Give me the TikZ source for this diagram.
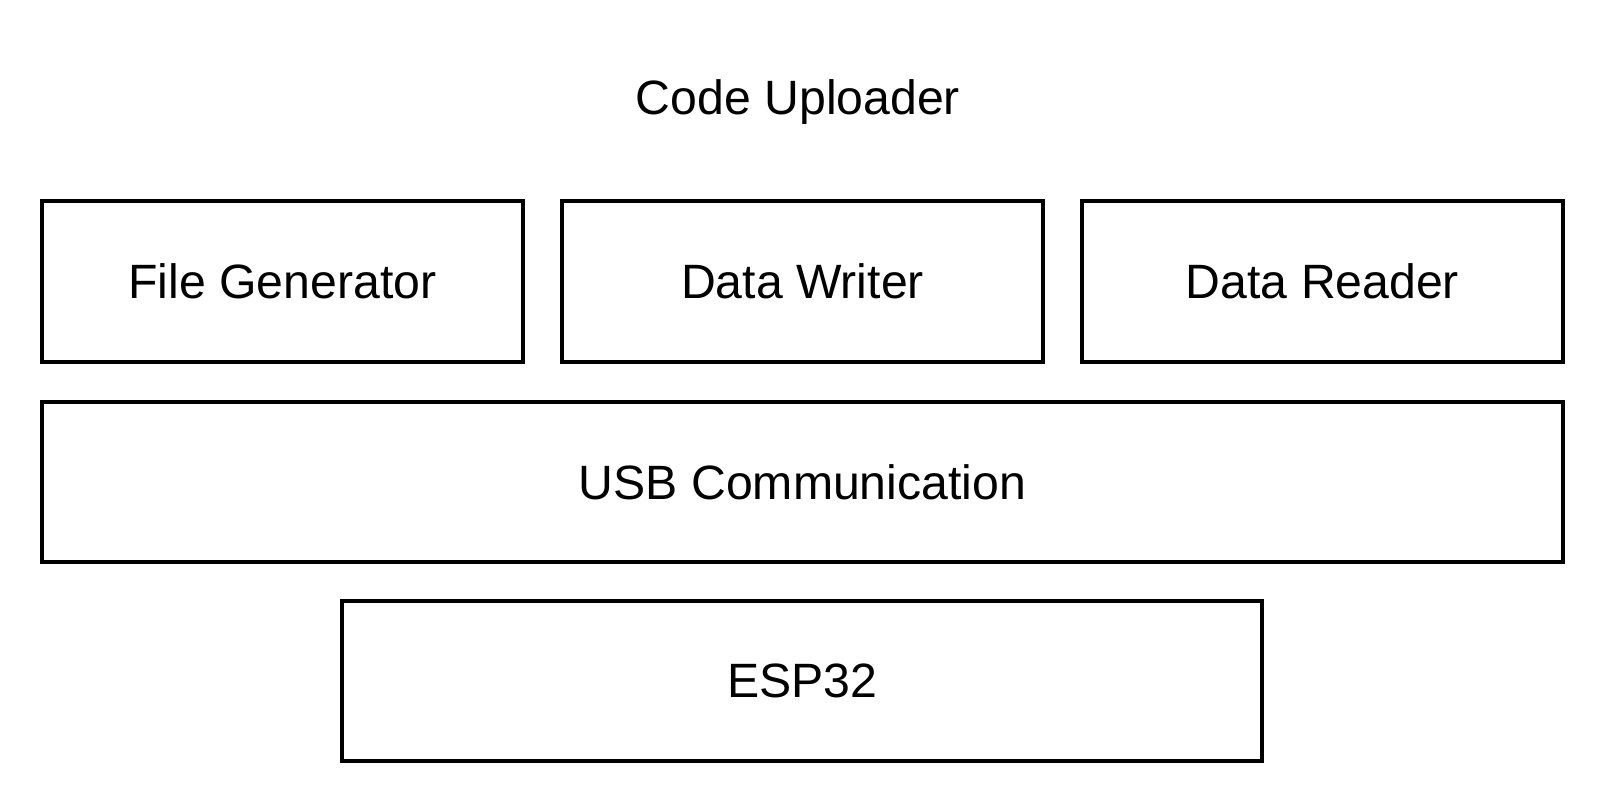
\documentclass[tikz,border=0pt]{standalone}
\usepackage{fontspec}
\setmainfont{Liberation Sans}
\begin{document}
\begin{tikzpicture}[x=0.01cm,y=-0.01cm,
  blk/.style={draw=black,line width=1.15pt,inner sep=0pt,font=\fontsize{13.7pt}{16pt}\selectfont},
  ttl/.style={font=\fontsize{13.7pt}{16pt}\selectfont,inner sep=0pt}]
\useasboundingbox (0,0) rectangle (1604,804);
\node[ttl] (title) at (798,102) {Code Uploader};
\node[blk,minimum width=4.81cm,minimum height=1.60cm] (fg) at (282.5,281.5) {File Generator};
\node[blk,minimum width=4.81cm,minimum height=1.60cm] (dw) at (802.5,281.5) {Data Writer};
\node[blk,minimum width=4.81cm,minimum height=1.60cm] (dr) at (1322.5,281.5) {Data Reader};
\node[blk,minimum width=15.21cm,minimum height=1.60cm] (usb) at (802.5,482) {USB Communication};
\node[blk,minimum width=9.20cm,minimum height=1.60cm] (esp) at (802,681) {ESP32};
\end{tikzpicture}
\end{document}
